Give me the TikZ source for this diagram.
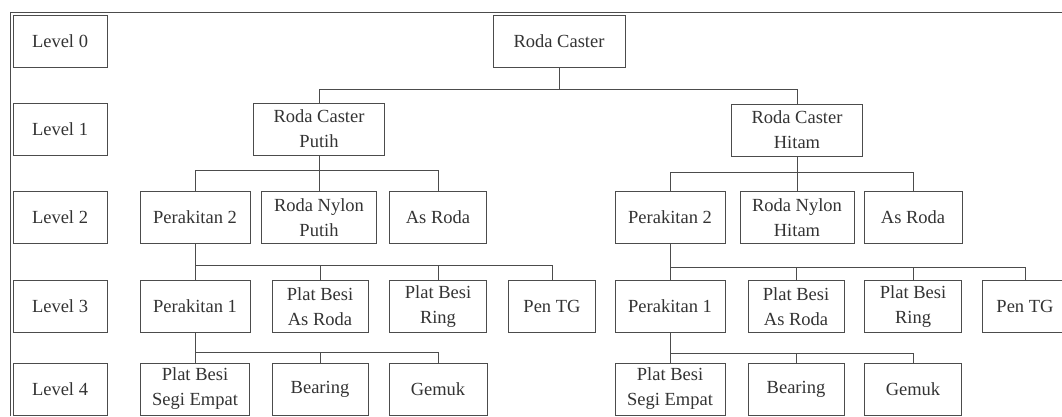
\documentclass[tikz,border=0pt]{standalone}
\usepackage{fontspec}
\setmainfont{Liberation Serif}
\begin{document}
\begin{tikzpicture}[x=1pt,y=-1pt,
  box/.style={draw=black!70,line width=0.8pt,minimum height=52pt,inner sep=0pt,
    align=center,text=black!80,font=\fontsize{18.5}{25}\selectfont},
  wire/.style={draw=black!70,line width=0.8pt}]
\useasboundingbox (0,0) rectangle (1062,416);
\draw[wire] (10,416) -- (10,12.5) -- (1062,12.5);

% level labels
\foreach \i/\y in {0/41.5,1/129,2/217.5,3/306.5,4/389}
  \node[box,minimum width=94pt] (lv\i) at (60,\y) {Level \i};

% level 0 and 1
\node[box,minimum width=132pt] (rc) at (559,41.5) {Roda Caster};
\node[box,minimum width=131pt] (rcp) at (319,129) {Roda Caster\\Putih};
\node[box,minimum width=131pt] (rch) at (797,130) {Roda Caster\\Hitam};

% level 2
\node[box,minimum width=110pt] (p2a) at (195,217.5) {Perakitan 2};
\node[box,minimum width=115pt] (rnp) at (319,217.5) {Roda Nylon\\Putih};
\node[box,minimum width=97pt] (asa) at (438,217.5) {As Roda};
\node[box,minimum width=110pt] (p2b) at (670,217.5) {Perakitan 2};
\node[box,minimum width=114pt] (rnh) at (797,217.5) {Roda Nylon\\Hitam};
\node[box,minimum width=98pt] (asb) at (913,217.5) {As Roda};

% level 3
\node[box,minimum width=110pt] (p1a) at (195,306.5) {Perakitan 1};
\node[box,minimum width=96pt] (pbaa) at (320,306.5) {Plat Besi\\As Roda};
\node[box,minimum width=97pt] (pbra) at (438,306.5) {Plat Besi\\Ring};
\node[box,minimum width=87pt] (pena) at (552,306.5) {Pen TG};
\node[box,minimum width=110pt] (p1b) at (670,306.5) {Perakitan 1};
\node[box,minimum width=96pt] (pbab) at (796,306.5) {Plat Besi\\As Roda};
\node[box,minimum width=97pt] (pbrb) at (913,306.5) {Plat Besi\\Ring};
\node[box,minimum width=86pt] (penb) at (1025,306.5) {Pen TG};

% level 4
\node[box,minimum width=109pt] (pbsa) at (195,389) {Plat Besi\\Segi Empat};
\node[box,minimum width=96pt] (bra) at (320,389) {Bearing};
\node[box,minimum width=98pt] (gma) at (438,389) {Gemuk};
\node[box,minimum width=110pt] (pbsb) at (670,389) {Plat Besi\\Segi Empat};
\node[box,minimum width=96pt] (brb) at (796,389) {Bearing};
\node[box,minimum width=97pt] (gmb) at (913,389) {Gemuk};

% connectors
\draw[wire] (rc.south) -- ++(0,21) coordinate (b0);
\foreach \c in {rcp,rch} \draw[wire] (b0) -| (\c.north);

\draw[wire] (rcp.south) -- (rnp.north);
\path (rcp.south) ++(0,15) coordinate (b1a);
\foreach \c in {p2a,asa} \draw[wire] (b1a) -| (\c.north);
\draw[wire] (rch.south) -- (rnh.north);
\path (rch.south) ++(0,16) coordinate (b1b);
\foreach \c in {p2b,asb} \draw[wire] (b1b) -| (\c.north);

\draw[wire] (p2a.south) -- (p1a.north);
\path (p2a.south) ++(0,21) coordinate (b2a);
\foreach \c in {pbaa,pbra,pena} \draw[wire] (b2a) -| (\c.north);
\draw[wire] (p2b.south) -- (p1b.north);
\path (p2b.south) ++(0,23) coordinate (b2b);
\foreach \c in {pbab,pbrb,penb} \draw[wire] (b2b) -| (\c.north);

\draw[wire] (p1a.south) -- (pbsa.north);
\path (p1a.south) ++(0,19) coordinate (b3a);
\foreach \c in {bra,gma} \draw[wire] (b3a) -| (\c.north);
\draw[wire] (p1b.south) -- (pbsb.north);
\path (p1b.south) ++(0,20) coordinate (b3b);
\foreach \c in {brb,gmb} \draw[wire] (b3b) -| (\c.north);
\end{tikzpicture}
\end{document}
